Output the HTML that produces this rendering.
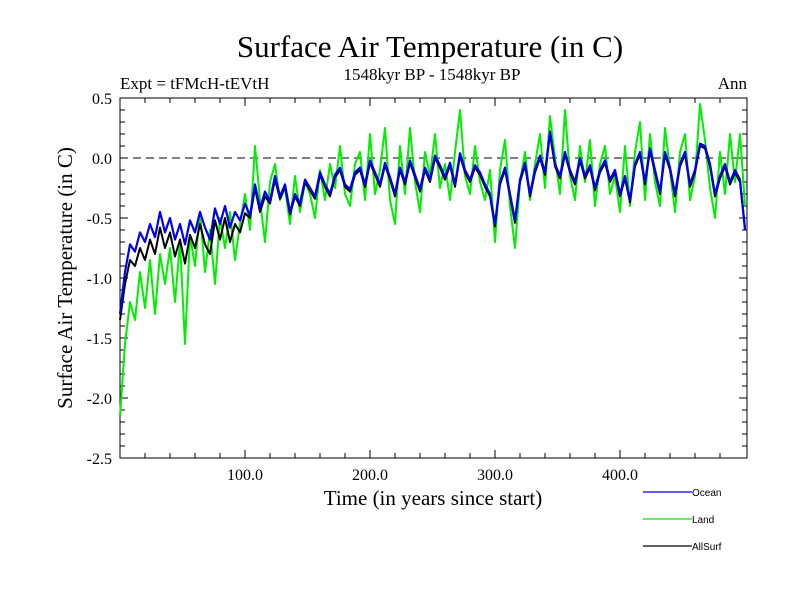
<!DOCTYPE html>
<html><head><meta charset="utf-8"><style>
body{margin:0;background:#fff}
svg{display:block;font-family:"Liberation Serif",serif}
</style></head><body>
<svg id="chart" width="800" height="600">
<text x="430" y="57" text-anchor="middle" font-size="31">Surface Air Temperature (in C)</text>
<text x="432" y="80" text-anchor="middle" font-size="17">1548kyr BP - 1548kyr BP</text>
<text x="120" y="89" font-size="17">Expt = tFMcH-tEVtH</text>
<text x="747" y="89" text-anchor="end" font-size="17">Ann</text>
<text x="433" y="505" text-anchor="middle" font-size="21">Time (in years since start)</text>
<text transform="translate(72,278) rotate(-90)" text-anchor="middle" font-size="21">Surface Air Temperature (in C)</text>
<g id="axes"></g>
<g id="series"></g>
<g id="legend" font-family="Liberation Sans, sans-serif" font-size="10"></g>
</svg>
<script>
const xTicks=[100,200,300,400];
const xTickLabels=["100.0","200.0","300.0","400.0"];
const yTicks=[0.5,0.0,-0.5,-1.0,-1.5,-2.0,-2.5];
const yTickLabels=["0.5","0.0","-0.5","-1.0","-1.5","-2.0","-2.5"];
const years=[];for(let i=0;i<=125;i++)years.push(i*4);
const ocean=[-1.30,-0.95,-0.72,-0.78,-0.62,-0.70,-0.55,-0.66,-0.45,-0.62,-0.50,-0.68,-0.55,-0.72,-0.52,-0.62,-0.45,-0.58,-0.68,-0.42,-0.55,-0.40,-0.58,-0.45,-0.52,-0.38,
-0.48,-0.22,-0.42,-0.28,-0.36,-0.15,-0.32,-0.22,-0.45,-0.30,-0.38,-0.18,-0.25,-0.32,-0.12,-0.22,-0.30,-0.14,-0.08,-0.22,-0.26,-0.12,-0.08,-0.22,-0.02,
-0.12,-0.22,-0.04,-0.16,-0.30,-0.08,-0.20,-0.02,-0.14,-0.26,-0.08,-0.18,0.02,-0.06,-0.16,-0.04,-0.22,0.04,-0.10,-0.18,-0.06,-0.12,-0.22,-0.30,-0.55,
-0.20,-0.08,-0.30,-0.52,-0.18,-0.04,-0.30,-0.10,0.02,-0.12,0.22,-0.05,-0.15,0.05,-0.10,-0.20,0.00,-0.15,-0.06,-0.25,-0.10,-0.02,-0.18,-0.10,-0.30,
-0.15,-0.35,-0.05,0.05,-0.20,0.08,-0.10,-0.28,0.05,-0.08,-0.30,-0.05,0.05,-0.22,-0.10,0.12,0.10,-0.05,-0.30,-0.15,-0.05,-0.20,-0.10,-0.18,-0.60];
const land=[-2.15,-1.55,-1.20,-1.35,-0.95,-1.25,-0.85,-1.30,-0.80,-1.05,-0.75,-1.20,-0.70,-1.55,-0.65,-0.90,-0.45,-0.95,-0.60,-1.05,-0.50,-0.75,-0.45,-0.85,-0.55,-0.30,
-0.60,0.10,-0.35,-0.70,-0.20,-0.05,-0.35,-0.25,-0.55,-0.15,-0.45,-0.20,-0.30,-0.50,-0.10,-0.35,-0.05,-0.25,0.10,-0.30,-0.40,-0.05,0.05,-0.35,0.20,
-0.30,-0.10,0.25,-0.35,-0.55,0.10,-0.30,0.25,-0.20,-0.45,0.05,-0.15,0.20,-0.25,-0.05,-0.35,0.05,0.40,-0.15,-0.30,0.10,-0.20,-0.35,-0.10,-0.70,
-0.10,0.15,-0.40,-0.75,-0.20,0.05,-0.35,-0.05,0.20,-0.25,0.35,0.00,-0.30,0.40,-0.15,-0.35,0.10,-0.20,0.15,-0.40,-0.05,0.10,-0.30,-0.15,-0.45,
0.10,-0.40,0.05,0.30,-0.35,0.20,-0.20,-0.40,0.25,-0.10,-0.45,0.05,0.20,-0.35,-0.15,0.45,0.15,-0.25,-0.50,0.05,-0.30,0.20,-0.20,0.20,-0.40];
const allSurf=[-1.35,-1.05,-0.85,-0.90,-0.75,-0.85,-0.68,-0.80,-0.58,-0.75,-0.62,-0.82,-0.68,-0.88,-0.64,-0.75,-0.55,-0.72,-0.80,-0.52,-0.68,-0.50,-0.70,-0.55,-0.62,-0.46,
-0.50,-0.25,-0.45,-0.32,-0.38,-0.18,-0.34,-0.24,-0.47,-0.32,-0.40,-0.20,-0.27,-0.34,-0.14,-0.24,-0.32,-0.16,-0.10,-0.24,-0.28,-0.14,-0.10,-0.24,-0.04,
-0.14,-0.24,-0.06,-0.18,-0.32,-0.10,-0.22,-0.04,-0.16,-0.28,-0.10,-0.20,0.00,-0.08,-0.18,-0.06,-0.24,0.02,-0.12,-0.20,-0.08,-0.14,-0.24,-0.32,-0.57,
-0.22,-0.10,-0.32,-0.54,-0.20,-0.06,-0.32,-0.12,0.00,-0.14,0.20,-0.07,-0.17,0.03,-0.12,-0.22,-0.02,-0.17,-0.08,-0.27,-0.12,-0.04,-0.20,-0.12,-0.32,
-0.17,-0.37,-0.07,0.03,-0.22,0.06,-0.12,-0.30,0.03,-0.10,-0.32,-0.07,0.03,-0.24,-0.12,0.10,0.08,-0.07,-0.32,-0.17,-0.07,-0.22,-0.12,-0.20,-0.58];

const NS="http://www.w3.org/2000/svg";
const L=120,R=747,T=98,B=458;
const xS=v=>L+v*1.25;
const yS=v=>T+(0.5-v)*120;
function mk(tag,attrs,parent){const e=document.createElementNS(NS,tag);for(const k in attrs)e.setAttribute(k,attrs[k]);parent.appendChild(e);return e;}
const axes=document.getElementById('axes');
// zero line
const z=mk('line',{x1:L,x2:R,y1:yS(0),y2:yS(0),stroke:'#000','stroke-dasharray':'8,5','stroke-width':1},axes);


// minor x ticks
for(let v=20;v<500;v+=20){
  const big=v%100===0, len=big?8:5;
  const t1=mk('line',{x1:xS(v),x2:xS(v),y1:B,y2:B-len,stroke:'#000'},axes);
  
  
  const t2=mk('line',{x1:xS(v),x2:xS(v),y1:T,y2:T+len,stroke:'#000'},axes);
  
  
}
for(let k=-24;k<=4;k++){
  const v=k/10, big=k%5===0, len=big?8:5;
  const t1=mk('line',{x1:L,x2:L+len,y1:yS(v),y2:yS(v),stroke:'#000'},axes);
  
  
  const t2=mk('line',{x1:R,x2:R-len,y1:yS(v),y2:yS(v),stroke:'#000'},axes);
  
  
}
xTicks.forEach((v,i)=>{
  const t=mk('text',{x:xS(v),y:480,'text-anchor':'middle','font-size':16},axes);
  t.textContent=xTickLabels[i];
  
  
});
yTicks.forEach((v,i)=>{
  const t=mk('text',{x:112,y:yS(v)+6,'text-anchor':'end','font-size':16},axes);
  t.textContent=yTickLabels[i];
  
  
});
const frame=mk('rect',{x:L,y:T,width:R-L,height:B-T,fill:'none',stroke:'#000','stroke-width':1},axes);


const ser=document.getElementById('series');
function line(vals,color,w,name){
  const d=vals.map((v,i)=>(i?'L':'M')+xS(Math.min(years[i],501)).toFixed(1)+','+yS(v).toFixed(1)).join('');
  const p=mk('path',{d:d,fill:'none',stroke:color,'stroke-width':w,'stroke-linejoin':'round'},ser);
  
  
}
line(land,'#00ee00',2,'land-series');
line(allSurf,'#000000',2,'allsurf-series');
line(ocean,'#0000ee',2.2,'ocean-series');
const lg=document.getElementById('legend');
[['Ocean','#0000ee',492],['Land','#00ee00',519],['AllSurf','#000',546]].forEach(e=>{
  const g=mk('g',{},lg);
  
  
  mk('line',{x1:643,x2:692,y1:e[2],y2:e[2],stroke:e[1],'stroke-width':1.3},g);
  const t=mk('text',{x:692,y:e[2]+4},g);t.textContent=e[0];
});
</script>
</body></html>
